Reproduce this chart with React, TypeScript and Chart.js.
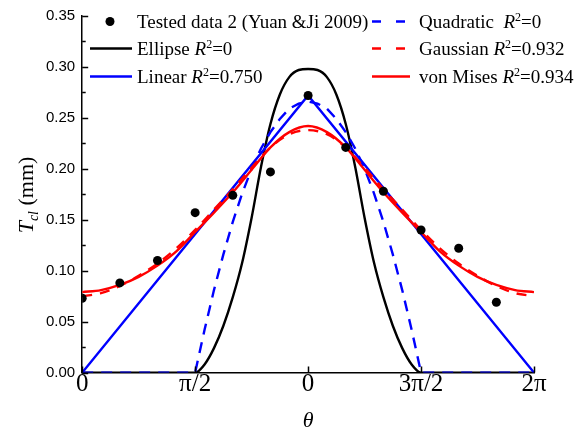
import React, { useEffect, useRef } from "react";
import { Chart, registerables } from "chart.js";

Chart.register(...registerables);

// ---------- data ----------
const thetaDotsDeg = [0, 30, 60, 90, 120, 150, 180, 210, 240, 270, 300, 330];
const testedData = [0.073, 0.088, 0.11, 0.157, 0.174, 0.197, 0.272, 0.221, 0.178, 0.14, 0.122, 0.069];

const ellipseTheta = [0, 90, 97.5, 105, 112.5, 120, 127.5, 135, 142.5, 150, 157.5, 165, 172.5, 180,
  187.5, 195, 202.5, 210, 217.5, 225, 232.5, 240, 247.5, 255, 262.5, 270, 360];
const ellipseValues = [0, 0, 0.008, 0.024, 0.046, 0.074, 0.108, 0.152, 0.202, 0.244, 0.273, 0.29, 0.297, 0.298,
  0.297, 0.29, 0.273, 0.244, 0.202, 0.152, 0.108, 0.074, 0.046, 0.024, 0.008, 0, 0];

const linearTheta = [0, 180, 360];
const linearValues = [0, 0.272, 0];

const quadTheta = [0, 90, 97.5, 105, 112.5, 120, 127.5, 135, 142.5, 150, 157.5, 165, 172.5, 180,
  187.5, 195, 202.5, 210, 217.5, 225, 232.5, 240, 247.5, 255, 262.5, 270, 360];
const quadValues = [0, 0, 0.042, 0.081, 0.116, 0.148, 0.176, 0.2, 0.22, 0.236, 0.249, 0.259, 0.264, 0.266,
  0.264, 0.259, 0.249, 0.236, 0.22, 0.2, 0.176, 0.148, 0.116, 0.081, 0.042, 0, 0];

const fitTheta = [0, 15, 30, 45, 60, 75, 90, 105, 120, 135, 150, 165, 180,
  195, 210, 225, 240, 255, 270, 285, 300, 315, 330, 345, 360];
const gaussianValues = [0.075, 0.078, 0.085, 0.095, 0.107, 0.122, 0.14, 0.16, 0.18, 0.201, 0.221, 0.234, 0.238,
  0.234, 0.221, 0.201, 0.18, 0.16, 0.14, 0.122, 0.107, 0.095, 0.085, 0.078, 0.075];
const vonMisesValues = [0.079, 0.081, 0.086, 0.094, 0.105, 0.119, 0.138, 0.157, 0.177, 0.199, 0.221, 0.236, 0.242,
  0.236, 0.221, 0.199, 0.177, 0.157, 0.138, 0.119, 0.105, 0.094, 0.086, 0.081, 0.079];

const xTickValues = [0, 90, 180, 270, 360];
const xTickLabels = ["0", "π/2", "0", "3π/2", "2π"];
const yTickValues = [0, 0.05, 0.1, 0.15, 0.2, 0.25, 0.3, 0.35];
const yTickLabels = ["0.00", "0.05", "0.10", "0.15", "0.20", "0.25", "0.30", "0.35"];
const yMinorValues = [0.025, 0.075, 0.125, 0.175, 0.225, 0.275, 0.325];

const SERIF = '"Liberation Serif", "Times New Roman", serif';
const SANS = '"Liberation Sans", Arial, sans-serif';
const BLUE = "#0000ff";
const RED = "#ff0000";

type Seg = { t: string; i?: boolean; sup?: boolean; sub?: boolean };

function segFont(s: Seg, size: number) {
  const sz = s.sup || s.sub ? Math.round(size * 0.62) : size;
  return `${s.i ? "italic " : ""}${sz}px ${SERIF}`;
}
function richWidth(ctx: CanvasRenderingContext2D, segs: Seg[], size: number) {
  let w = 0;
  for (const s of segs) {
    ctx.font = segFont(s, size);
    w += ctx.measureText(s.t).width;
  }
  return w;
}
function drawRich(ctx: CanvasRenderingContext2D, x: number, y: number, segs: Seg[], size: number) {
  let cx = x;
  ctx.textBaseline = "alphabetic";
  ctx.textAlign = "left";
  for (const s of segs) {
    ctx.font = segFont(s, size);
    const dy = s.sup ? -size * 0.36 : s.sub ? size * 0.22 : 0;
    ctx.fillText(s.t, cx, y + dy);
    cx += ctx.measureText(s.t).width;
  }
}

const legendRows = [
  { col: 0, row: 0, kind: "dot", color: "#000", segs: [{ t: "Tested data 2 (Yuan &Ji 2009)" }] },
  { col: 0, row: 1, kind: "line", color: "#000", segs: [{ t: "Ellipse " }, { t: "R", i: true }, { t: "2", sup: true }, { t: "=0" }] },
  { col: 0, row: 2, kind: "line", color: BLUE, segs: [{ t: "Linear " }, { t: "R", i: true }, { t: "2", sup: true }, { t: "=0.750" }] },
  { col: 1, row: 0, kind: "dash", color: BLUE, segs: [{ t: "Quadratic  " }, { t: "R", i: true }, { t: "2", sup: true }, { t: "=0" }] },
  { col: 1, row: 1, kind: "dash", color: RED, segs: [{ t: "Gaussian " }, { t: "R", i: true }, { t: "2", sup: true }, { t: "=0.932" }] },
  { col: 1, row: 2, kind: "line", color: RED, segs: [{ t: "von Mises " }, { t: "R", i: true }, { t: "2", sup: true }, { t: "=0.934" }] },
];

const decorPlugin = {
  id: "decor",
  afterDraw(chart: any) {
    const ctx: CanvasRenderingContext2D = chart.ctx;
    const xs = chart.scales.x;
    const ys = chart.scales.y;
    const area = chart.chartArea;
    ctx.save();
    // inward ticks
    ctx.strokeStyle = "#000";
    ctx.lineWidth = 1.5;
    ctx.beginPath();
    for (const v of yTickValues) {
      const py = Math.round(ys.getPixelForValue(v)) + 0.5;
      ctx.moveTo(area.left, py);
      ctx.lineTo(area.left + 6, py);
    }
    for (const v of yMinorValues) {
      const py = Math.round(ys.getPixelForValue(v)) + 0.5;
      ctx.moveTo(area.left, py);
      ctx.lineTo(area.left + 3.5, py);
    }
    for (const v of xTickValues) {
      const px = Math.round(xs.getPixelForValue(v)) + 0.5;
      ctx.moveTo(px, area.bottom);
      ctx.lineTo(px, area.bottom - 6);
    }
    ctx.stroke();

    // y title
    ctx.save();
    ctx.fillStyle = "#000";
    const ySegs: Seg[] = [{ t: "T", i: true }, { t: "cl", i: true, sub: true }, { t: " (mm)" }];
    const ysz = 22;
    const w = richWidth(ctx, ySegs, ysz);
    ctx.translate(33, 195);
    ctx.rotate(-Math.PI / 2);
    drawRich(ctx, -w / 2, 0, ySegs, ysz);
    ctx.restore();

    // legend
    const colSample = [90, 372];
    const colText = [137, 419];
    const rowY = [21.5, 48.5, 76.5];
    const size = 19;
    for (const r of legendRows) {
      const y = rowY[r.row];
      const x0 = colSample[r.col];
      ctx.fillStyle = r.color;
      ctx.strokeStyle = r.color;
      if (r.kind === "dot") {
        ctx.beginPath();
        ctx.arc(110, y, 4.5, 0, Math.PI * 2);
        ctx.fill();
      } else {
        ctx.lineWidth = 2.4;
        ctx.setLineDash(r.kind === "dash" ? [9, 15] : []);
        ctx.beginPath();
        ctx.moveTo(x0, y);
        ctx.lineTo(x0 + (r.col === 0 ? 42 : 38), y);
        ctx.stroke();
        ctx.setLineDash([]);
      }
      ctx.fillStyle = "#000";
      drawRich(ctx, colText[r.col], y + 6, r.segs, size);
    }
    ctx.restore();
  },
};

function pts(xs: number[], ys: number[]) {
  return xs.map((x, i) => ({ x, y: ys[i] }));
}

export default function App() {
  const ref = useRef<HTMLCanvasElement>(null);
  useEffect(() => {
    if (!ref.current) return;
    const lineBase = { showLine: true, pointRadius: 0, borderWidth: 2.4, fill: false };
    const chart = new Chart(ref.current, {
      type: "scatter",
      data: {
        datasets: [
          {
            label: "Tested data 2 (Yuan &Ji 2009)",
            data: pts(thetaDotsDeg, testedData),
            showLine: false,
            pointRadius: 4.5,
            pointBackgroundColor: "#000",
            pointBorderWidth: 0,
            borderColor: "#000",
          },
          { ...lineBase, label: "von Mises", data: pts(fitTheta, vonMisesValues), borderColor: RED, cubicInterpolationMode: "monotone" },
          { ...lineBase, label: "Gaussian", data: pts(fitTheta, gaussianValues), borderColor: RED, borderDash: [10, 8], cubicInterpolationMode: "monotone" },
          { ...lineBase, label: "Quadratic", data: pts(quadTheta, quadValues), borderColor: BLUE, borderDash: [11, 8], tension: 0 },
          { ...lineBase, label: "Linear", data: pts(linearTheta, linearValues), borderColor: BLUE, tension: 0 },
          { ...lineBase, label: "Ellipse", data: pts(ellipseTheta, ellipseValues), borderColor: "#000", cubicInterpolationMode: "monotone" },
        ] as any,
      },
      options: {
        animation: false,
        responsive: false,
        devicePixelRatio: 1,
        layout: { padding: { left: 39, right: 47, top: 16, bottom: 0 } },
        plugins: { legend: { display: false }, tooltip: { enabled: false } },
        scales: {
          x: {
            type: "linear",
            min: 0,
            max: 360,
            afterBuildTicks: (s: any) => {
              s.ticks = xTickValues.map((v) => ({ value: v }));
            },
            ticks: {
              callback: (_v: any, i: number) => xTickLabels[i],
              font: { family: SERIF, size: 25 },
              color: "#000",
              padding: -3,
              maxRotation: 0,
              autoSkip: false,
            },
            grid: { display: false, drawTicks: false },
            border: { display: true, color: "#000", width: 1.5 },
            title: {
              display: true,
              text: "θ",
              font: { family: SERIF, size: 22, style: "italic" },
              color: "#000",
              padding: { top: 11, bottom: 0 },
            },
          },
          y: {
            type: "linear",
            min: 0,
            max: 0.35,
            afterBuildTicks: (s: any) => {
              s.ticks = yTickValues.map((v) => ({ value: v }));
            },
            ticks: {
              callback: (_v: any, i: number) => yTickLabels[i],
              font: { family: SANS, size: 15 },
              color: "#000",
              padding: 7,
            },
            grid: { display: false, drawTicks: false },
            border: { display: true, color: "#000", width: 1.5 },
          },
        },
      } as any,
      plugins: [decorPlugin],
    });
    return () => chart.destroy();
  }, []);
  return (
    <div style={{ position: "fixed", left: 0, top: 0, width: 581, height: 434, background: "#fff" }}>
      <canvas ref={ref} width={581} height={434} style={{ display: "block" }} />
    </div>
  );
}
